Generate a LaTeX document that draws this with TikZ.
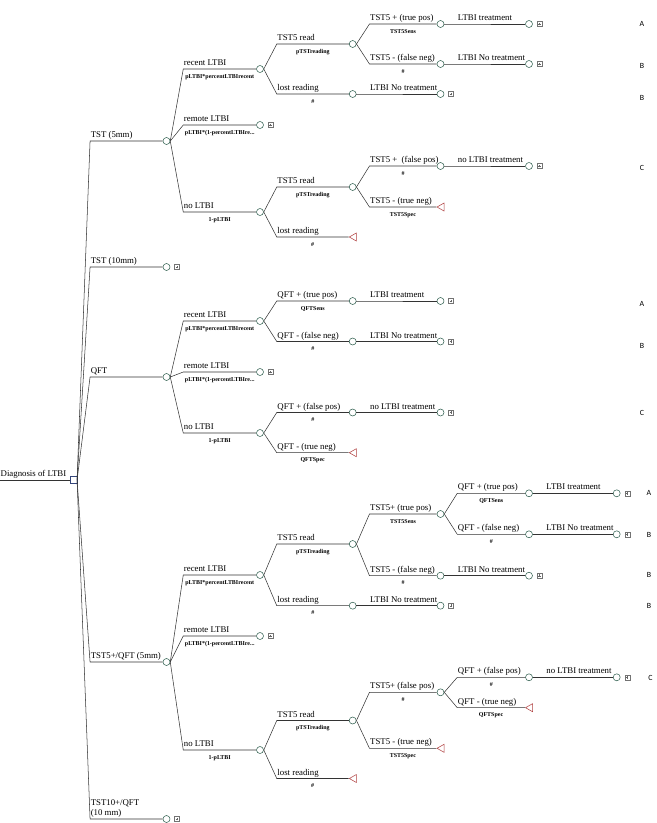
\documentclass[tikz,border=0pt]{standalone}
\usepackage{fontspec}
\setmainfont{Liberation Serif}
\newfontfamily\letterfont{Carlito}
\usetikzlibrary{shapes.geometric,calc}
\definecolor{chance}{HTML}{2F5F4F}
\definecolor{term}{HTML}{B04040}
\definecolor{decision}{HTML}{34457A}

\begin{document}
\begin{tikzpicture}[x=0.4mm, y=-0.4mm,
  edge/.style={draw=black!80, line width=0.6pt},
  chancenode/.style={circle, draw=chance, fill=white, line width=0.6pt, minimum size=2.8mm, inner sep=0pt},
  decnode/.style={rectangle, draw=decision, fill=white, line width=0.6pt, minimum size=2.8mm, inner sep=0pt},
  endnode/.style={isosceles triangle, shape border rotate=180, isosceles triangle stretches, draw=term, fill=white, line width=0.6pt, minimum height=2.8mm, minimum width=3.2mm, inner sep=0pt},
  subtree/.style={rectangle, draw=black!55, line width=0.4pt, minimum size=2mm, inner sep=0pt,
    path picture={\draw[black!60, line width=0.3pt]
      ($(path picture bounding box.west)!0.25!(path picture bounding box.east)$) -- ($(path picture bounding box.west)!0.75!(path picture bounding box.east)$)
      ($(path picture bounding box.south)!0.25!(path picture bounding box.north)$) -- ($(path picture bounding box.south)!0.75!(path picture bounding box.north)$);}},
  lbl/.style={anchor=south west, font=\fontsize{10}{12}\selectfont, inner xsep=0.5pt, inner ysep=1pt, text depth=0.25em},
  prob/.style={below=5.5pt, inner sep=0pt, font=\fontsize{6.8}{8}\selectfont\bfseries},
  outcome/.style={font=\letterfont\fontsize{9}{10}\selectfont, inner sep=0pt}
]
  \useasboundingbox (0,0) rectangle (657,823);

  % root decision
  \coordinate (start) at (0,480);
  \node[decnode] (root) at (73.3,480) {};
  \draw[edge] (start) -- node[lbl, pos=0] {Diagnosis of LTBI} (root.west);

  % strategies
  \node[chancenode] (tst5) at (166.5,141) {};
  \node[chancenode] (tst10) at (166.5,267) {};
  \node[subtree] (tst10b) at (177,267) {};
  \node[chancenode] (qft) at (166.5,377) {};
  \node[chancenode] (combo5) at (166.5,662) {};
  \node[chancenode] (combo10) at (166.5,819) {};
  \node[subtree] (combo10b) at (177,819) {};

  \draw[edge] (root.east) -- ($(root.east |- tst5)+(13,0)$) node[lbl] {TST (5mm)} -- (tst5.west);
  \draw[edge] (root.east) -- ($(root.east |- tst10)+(13,0)$) node[lbl] {TST (10mm)} -- (tst10.west);
  \draw[edge] (root.east) -- ($(root.east |- qft)+(13,0)$) node[lbl] {QFT} -- (qft.west);
  \draw[edge] (root.east) -- ($(root.east |- combo5)+(13,0)$) node[lbl] {TST5+/QFT (5mm)} -- (combo5.west);
  \draw[edge] (root.east) -- ($(root.east |- combo10)+(13,0)$) node[lbl, align=left] {TST10+/QFT\\(10 mm)} -- (combo10.west);

  % TST (5mm)
  \node[chancenode] (t5rec) at (260,69) {};
  \node[chancenode] (t5rem) at (260,125) {};
  \node[subtree] (t5remb) at (270.5,125) {};
  \node[chancenode] (t5no) at (260,212) {};
  \node[chancenode] (t5read) at (352.7,44) {};
  \node[chancenode] (t5lost) at (352.7,94) {};
  \node[chancenode] (t5lostnt) at (440.5,94) {};
  \node[subtree] (t5lostntb) at (451,94) {};
  \node[chancenode] (t5tp) at (440.5,24) {};
  \node[chancenode] (t5fn) at (440.5,64) {};
  \node[chancenode] (t5tptx) at (529,24) {};
  \node[subtree] (t5tptxb) at (539.5,24) {};
  \node[chancenode] (t5fnnt) at (529,64) {};
  \node[subtree] (t5fnntb) at (539.5,64) {};
  \node[chancenode] (t5nread) at (352.7,187) {};
  \node[endnode] (t5nlost) at (354,237) {};
  \node[chancenode] (t5fp) at (440.5,166) {};
  \node[endnode] (t5tn) at (441.7,207) {};
  \node[chancenode] (t5fpnt) at (529,166) {};
  \node[subtree] (t5fpntb) at (539.5,166) {};

  \draw[edge] (tst5.east) -- ($(tst5.east |- t5rec)+(13,0)$) node[lbl] {recent LTBI} -- node[prob] {pLTBI*percentLTBIrecent} (t5rec.west);
  \draw[edge] (tst5.east) -- ($(tst5.east |- t5rem)+(13,0)$) node[lbl] {remote LTBI} -- node[prob] {pLTBI*(1-percentLTBIre...} (t5rem.west);
  \draw[edge] (tst5.east) -- ($(tst5.east |- t5no)+(13,0)$) node[lbl] {no LTBI} -- node[prob] {1-pLTBI} (t5no.west);
  \draw[edge] (t5rec.east) -- ($(t5rec.east |- t5read)+(13,0)$) node[lbl] {TST5 read} -- node[prob] {pTSTreading} (t5read.west);
  \draw[edge] (t5rec.east) -- ($(t5rec.east |- t5lost)+(13,0)$) node[lbl] {lost reading} -- node[prob] {\#} (t5lost.west);
  \draw[edge] (t5lost.east) -- ($(t5lost.east)+(13,0)$) node[lbl] {LTBI No treatment} -- (t5lostnt.west);
  \draw[edge] (t5read.east) -- ($(t5read.east |- t5tp)+(13,0)$) node[lbl] {TST5 + (true pos)} -- node[prob] {TST5Sens} (t5tp.west);
  \draw[edge] (t5read.east) -- ($(t5read.east |- t5fn)+(13,0)$) node[lbl] {TST5 - (false neg)} -- node[prob] {\#} (t5fn.west);
  \draw[edge] (t5tp.east) -- ($(t5tp.east)+(13,0)$) node[lbl] {LTBI treatment} -- (t5tptx.west);
  \draw[edge] (t5fn.east) -- ($(t5fn.east)+(13,0)$) node[lbl] {LTBI No treatment} -- (t5fnnt.west);
  \draw[edge] (t5no.east) -- ($(t5no.east |- t5nread)+(13,0)$) node[lbl] {TST5 read} -- node[prob] {pTSTreading} (t5nread.west);
  \draw[edge] (t5no.east) -- ($(t5no.east |- t5nlost)+(13,0)$) node[lbl] {lost reading} -- node[prob] {\#} (t5nlost.west);
  \draw[edge] (t5nread.east) -- ($(t5nread.east |- t5fp)+(13,0)$) node[lbl] {TST5 +\ \ (false pos)} -- node[prob] {\#} (t5fp.west);
  \draw[edge] (t5nread.east) -- ($(t5nread.east |- t5tn)+(13,0)$) node[lbl] {TST5 - (true neg)} -- node[prob] {TST5Spec} (t5tn.west);
  \draw[edge] (t5fp.east) -- ($(t5fp.east)+(13,0)$) node[lbl] {no LTBI treatment} -- (t5fpnt.west);

  % QFT
  \node[chancenode] (qrec) at (260,321) {};
  \node[chancenode] (qrem) at (260,372) {};
  \node[subtree] (qremb) at (270.5,372) {};
  \node[chancenode] (qno) at (260,433) {};
  \node[chancenode] (qtp) at (352.7,301) {};
  \node[chancenode] (qfn) at (352.7,341.5) {};
  \node[chancenode] (qtptx) at (440.5,301) {};
  \node[subtree] (qtptxb) at (451,301) {};
  \node[chancenode] (qfnnt) at (440.5,341.5) {};
  \node[subtree] (qfnntb) at (451,341.5) {};
  \node[chancenode] (qfp) at (352.7,412.5) {};
  \node[endnode] (qtn) at (354,452.7) {};
  \node[chancenode] (qfpnt) at (440.5,412.5) {};
  \node[subtree] (qfpntb) at (451,412.5) {};

  \draw[edge] (qft.east) -- ($(qft.east |- qrec)+(13,0)$) node[lbl] {recent LTBI} -- node[prob] {pLTBI*percentLTBIrecent} (qrec.west);
  \draw[edge] (qft.east) -- ($(qft.east |- qrem)+(13,0)$) node[lbl] {remote LTBI} -- node[prob] {pLTBI*(1-percentLTBIre...} (qrem.west);
  \draw[edge] (qft.east) -- ($(qft.east |- qno)+(13,0)$) node[lbl] {no LTBI} -- node[prob] {1-pLTBI} (qno.west);
  \draw[edge] (qrec.east) -- ($(qrec.east |- qtp)+(13,0)$) node[lbl] {QFT + (true pos)} -- node[prob] {QFTSens} (qtp.west);
  \draw[edge] (qrec.east) -- ($(qrec.east |- qfn)+(13,0)$) node[lbl] {QFT - (false neg)} -- node[prob] {\#} (qfn.west);
  \draw[edge] (qtp.east) -- ($(qtp.east)+(13,0)$) node[lbl] {LTBI treatment} -- (qtptx.west);
  \draw[edge] (qfn.east) -- ($(qfn.east)+(13,0)$) node[lbl] {LTBI No treatment} -- (qfnnt.west);
  \draw[edge] (qno.east) -- ($(qno.east |- qfp)+(13,0)$) node[lbl] {QFT + (false pos)} -- node[prob] {\#} (qfp.west);
  \draw[edge] (qno.east) -- ($(qno.east |- qtn)+(13,0)$) node[lbl] {QFT - (true neg)} -- node[prob] {QFTSpec} (qtn.west);
  \draw[edge] (qfp.east) -- ($(qfp.east)+(13,0)$) node[lbl] {no LTBI treatment} -- (qfpnt.west);

  % TST5+/QFT (5mm)
  \node[chancenode] (crec) at (260,575) {};
  \node[chancenode] (crem) at (260,636) {};
  \node[subtree] (cremb) at (270.5,636) {};
  \node[chancenode] (cno) at (260,750) {};
  \node[chancenode] (cread) at (352.7,544) {};
  \node[chancenode] (clost) at (352.7,605.7) {};
  \node[chancenode] (clostnt) at (440.5,605.7) {};
  \node[subtree] (clostntb) at (451,605.7) {};
  \node[chancenode] (ctp) at (440.5,514) {};
  \node[chancenode] (cfn) at (440.5,575.7) {};
  \node[chancenode] (cfnnt) at (529,575.7) {};
  \node[subtree] (cfnntb) at (539.5,575.7) {};
  \node[chancenode] (cqtp) at (529,493.3) {};
  \node[chancenode] (cqfn) at (529,534.3) {};
  \node[chancenode] (cqtptx) at (616.7,493.3) {};
  \node[subtree] (cqtptxb) at (627.2,493.3) {};
  \node[chancenode] (cqfnnt) at (616.7,534.3) {};
  \node[subtree] (cqfnntb) at (627.2,534.3) {};
  \node[chancenode] (cnread) at (352.7,720.5) {};
  \node[endnode] (cnlost) at (354,778.5) {};
  \node[chancenode] (cfp) at (440.5,692.3) {};
  \node[endnode] (ctn) at (441.7,748.3) {};
  \node[chancenode] (cqfp) at (529,677.3) {};
  \node[endnode] (cqtn) at (530.2,707.7) {};
  \node[chancenode] (cqfpnt) at (616.7,677.3) {};
  \node[subtree] (cqfpntb) at (627.2,677.3) {};

  \draw[edge] (combo5.east) -- ($(combo5.east |- crec)+(13,0)$) node[lbl] {recent LTBI} -- node[prob] {pLTBI*percentLTBIrecent} (crec.west);
  \draw[edge] (combo5.east) -- ($(combo5.east |- crem)+(13,0)$) node[lbl] {remote LTBI} -- node[prob] {pLTBI*(1-percentLTBIre...} (crem.west);
  \draw[edge] (combo5.east) -- ($(combo5.east |- cno)+(13,0)$) node[lbl] {no LTBI} -- node[prob] {1-pLTBI} (cno.west);
  \draw[edge] (crec.east) -- ($(crec.east |- cread)+(13,0)$) node[lbl] {TST5 read} -- node[prob] {pTSTreading} (cread.west);
  \draw[edge] (crec.east) -- ($(crec.east |- clost)+(13,0)$) node[lbl] {lost reading} -- node[prob] {\#} (clost.west);
  \draw[edge] (clost.east) -- ($(clost.east)+(13,0)$) node[lbl] {LTBI No treatment} -- (clostnt.west);
  \draw[edge] (cread.east) -- ($(cread.east |- ctp)+(13,0)$) node[lbl] {TST5+ (true pos)} -- node[prob] {TST5Sens} (ctp.west);
  \draw[edge] (cread.east) -- ($(cread.east |- cfn)+(13,0)$) node[lbl] {TST5 - (false neg)} -- node[prob] {\#} (cfn.west);
  \draw[edge] (cfn.east) -- ($(cfn.east)+(13,0)$) node[lbl] {LTBI No treatment} -- (cfnnt.west);
  \draw[edge] (ctp.east) -- ($(ctp.east |- cqtp)+(13,0)$) node[lbl] {QFT + (true pos)} -- node[prob] {QFTSens} (cqtp.west);
  \draw[edge] (ctp.east) -- ($(ctp.east |- cqfn)+(13,0)$) node[lbl] {QFT - (false neg)} -- node[prob] {\#} (cqfn.west);
  \draw[edge] (cqtp.east) -- ($(cqtp.east)+(13,0)$) node[lbl] {LTBI treatment} -- (cqtptx.west);
  \draw[edge] (cqfn.east) -- ($(cqfn.east)+(13,0)$) node[lbl] {LTBI No treatment} -- (cqfnnt.west);
  \draw[edge] (cno.east) -- ($(cno.east |- cnread)+(13,0)$) node[lbl] {TST5 read} -- node[prob] {pTSTreading} (cnread.west);
  \draw[edge] (cno.east) -- ($(cno.east |- cnlost)+(13,0)$) node[lbl] {lost reading} -- node[prob] {\#} (cnlost.west);
  \draw[edge] (cnread.east) -- ($(cnread.east |- cfp)+(13,0)$) node[lbl] {TST5+ (false pos)} -- node[prob] {\#} (cfp.west);
  \draw[edge] (cnread.east) -- ($(cnread.east |- ctn)+(13,0)$) node[lbl] {TST5 - (true neg)} -- node[prob] {TST5Spec} (ctn.west);
  \draw[edge] (cfp.east) -- ($(cfp.east |- cqfp)+(13,0)$) node[lbl] {QFT + (false pos)} -- node[prob] {\#} (cqfp.west);
  \draw[edge] (cfp.east) -- ($(cfp.east |- cqtn)+(13,0)$) node[lbl] {QFT - (true neg)} -- node[prob] {QFTSpec} (cqtn.west);
  \draw[edge] (cqfp.east) -- ($(cqfp.east)+(13,0)$) node[lbl] {no LTBI treatment} -- (cqfpnt.west);

  % outcome classes
  \node[outcome] (oa1) at (642,24) {A};
  \node[outcome] (ob1) at (642,66) {B};
  \node[outcome] (ob2) at (642,98) {B};
  \node[outcome] (oc1) at (642,168) {C};
  \node[outcome] (oa2) at (642,304) {A};
  \node[outcome] (ob3) at (642,346) {B};
  \node[outcome] (oc2) at (642,413) {C};
  \node[outcome] (oa3) at (649,493) {A};
  \node[outcome] (ob4) at (649,535) {B};
  \node[outcome] (ob5) at (649,575) {B};
  \node[outcome] (ob6) at (649,606) {B};
  \node[outcome] (oc3) at (650.5,678) {C};
\end{tikzpicture}
\end{document}
